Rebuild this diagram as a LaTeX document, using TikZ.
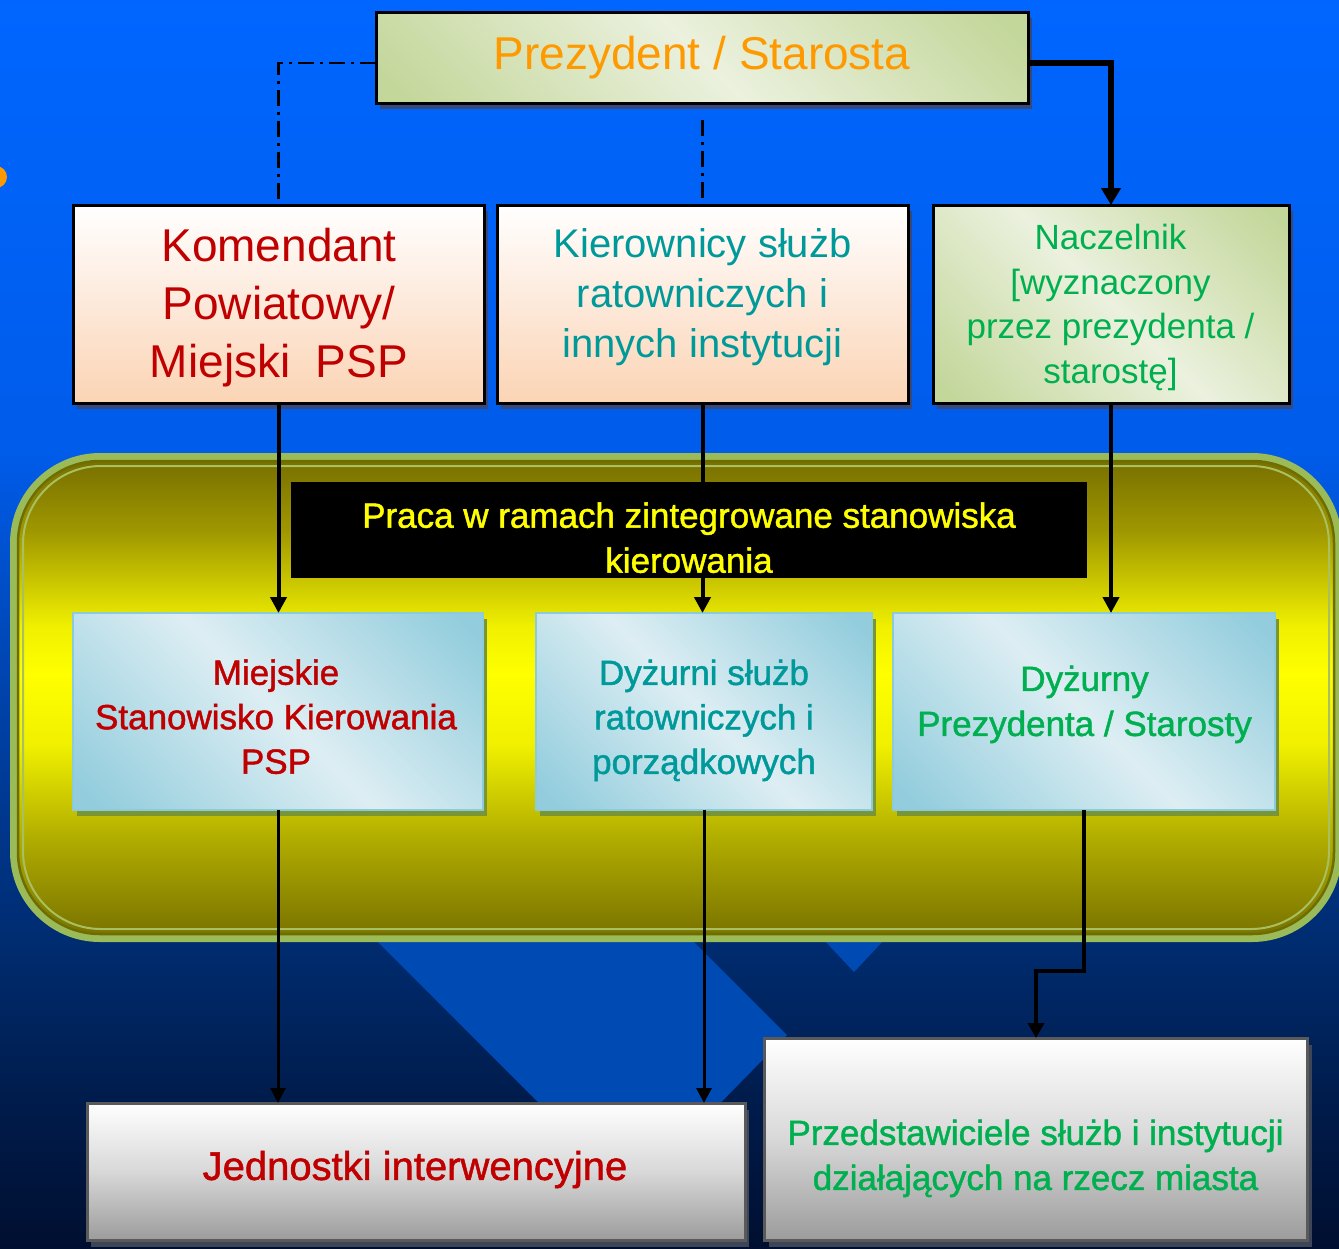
\documentclass[tikz,border=0pt]{standalone}
\usepackage{fontspec}
\setmainfont{Liberation Sans}
\newfontfamily\medfont{Liberation Sans}[FakeBold=1.3]
\usetikzlibrary{arrows.meta,shadows,calc}

\definecolor{bgA}{HTML}{0066FF}
\definecolor{bgB}{HTML}{005CEA}
\definecolor{bgC}{HTML}{0042AA}
\definecolor{bgD}{HTML}{002C70}
\definecolor{bgE}{HTML}{001C4C}
\definecolor{bgF}{HTML}{000F30}
\definecolor{bandblue}{HTML}{004AB4}
\definecolor{yO}{HTML}{7A7400}
\definecolor{yB}{HTML}{B0AC00}
\definecolor{yY1}{HTML}{F0F000}
\definecolor{yY}{HTML}{FFFF00}
\definecolor{yA}{HTML}{A09800}
\definecolor{yO2}{HTML}{787000}
\definecolor{contborder}{HTML}{9BBB59}
\definecolor{contdark}{HTML}{6E6E00}
\definecolor{contline}{HTML}{A8C060}
\definecolor{gD}{HTML}{C4D79B}
\definecolor{gL}{HTML}{EBF1DE}
\definecolor{cD}{HTML}{93CDDD}
\definecolor{cL}{HTML}{DDEEF3}
\definecolor{peach}{HTML}{FBD4B4}
\definecolor{peachmid}{HTML}{FDE9DA}
\definecolor{grayD}{HTML}{D8D8D8}
\definecolor{grayB}{HTML}{9C9C9C}
\definecolor{grayborder}{HTML}{5A5A5A}
\definecolor{cyanborder}{HTML}{8CCBDC}
\definecolor{shA}{HTML}{36497E}
\definecolor{shB}{HTML}{7A9535}
\definecolor{shC}{HTML}{3C4658}
\definecolor{orangeT}{HTML}{FF9900}
\definecolor{redT}{HTML}{C00000}
\definecolor{tealT}{HTML}{00999A}
\definecolor{greenT}{HTML}{00B050}
\definecolor{yellowT}{HTML}{FFFF00}

\pgfdeclareverticalshading{bgshade}{100bp}{color(0bp)=(bgF); color(25bp)=(bgF); color(31bp)=(bgE); color(37.3bp)=(bgD); color(47bp)=(bgC); color(57bp)=(bgB); color(75bp)=(bgA); color(100bp)=(bgA)}
\pgfdeclareverticalshading{yshade}{100bp}{color(0bp)=(yO); color(25bp)=(yO); color(35bp)=(yB); color(45bp)=(yY1); color(52.5bp)=(yY); color(57.5bp)=(yY1); color(67.5bp)=(yA); color(75bp)=(yO2); color(100bp)=(yO2)}
\pgfdeclarehorizontalshading{gdiag}{100bp}{color(0bp)=(gD); color(18bp)=(gD); color(50bp)=(gL); color(82bp)=(gD); color(100bp)=(gD)}
\pgfdeclarehorizontalshading{cdiag}{100bp}{color(0bp)=(cD); color(18bp)=(cD); color(50bp)=(cL); color(82bp)=(cD); color(100bp)=(cD)}

\tikzset{
  every node/.style={inner sep=0pt, outer sep=0pt},
  lbl/.style={align=center},
  fA/.style={font=\fontsize{46pt}{58pt}\selectfont},
  fB/.style={font=\fontsize{40pt}{50pt}\selectfont},
  fC/.style={font=\fontsize{35pt}{44.5pt}\selectfont},
  fD/.style={font=\fontsize{35pt}{45pt}\selectfont},
  mC/.style={font=\medfont\fontsize{35pt}{44.5pt}\selectfont},
  mD/.style={font=\medfont\fontsize{35pt}{45pt}\selectfont},
  mB/.style={font=\medfont\fontsize{40pt}{50pt}\selectfont},
  shtop/.style={drop shadow={shadow xshift=4pt, shadow yshift=-6pt, fill=shA, opacity=1, draw=none}},
  shmid/.style={drop shadow={shadow xshift=4pt, shadow yshift=-6pt, fill=shB, opacity=1, draw=none}},
  shbot/.style={drop shadow={shadow xshift=4pt, shadow yshift=-7pt, fill=shC, opacity=1, draw=none}},
  greenbox/.style={rectangle, draw=black, line width=3pt, shading=gdiag, shading angle=45},
  peachbox/.style={rectangle, draw=black, line width=3pt, top color=white, bottom color=peach, middle color=peachmid},
  cyanbox/.style={rectangle, draw=cyanborder, line width=2pt, shading=cdiag, shading angle=45},
  graybox/.style={rectangle, draw=grayborder, line width=3pt, top color=white, bottom color=grayB, middle color=grayD},
  blackbox/.style={rectangle, fill=black, draw=none},
  dashdotline/.style={draw=black, line width=2.5pt, dash pattern=on 16pt off 6pt on 3pt off 6pt},
  heavyarrow/.style={draw=black, line width=5.5pt, -{Triangle[length=17pt,width=19pt]}},
  midarrow/.style={draw=black, line width=4pt, -{Triangle[length=16pt,width=16pt]}},
  lowarrow/.style={draw=black, line width=3pt, -{Triangle[length=15pt,width=15pt]}},
  kneearrow/.style={draw=black, line width=4pt, -{Triangle[length=15pt,width=16pt]}},
}

\begin{document}
\begin{tikzpicture}[x=1pt,y=-1pt]
\useasboundingbox (0,0) rectangle (1339,1248);
\clip (0,0) rectangle (1339,1248);

% background
\shade[shading=bgshade] (0,0) rectangle (1339,1248);
\fill[bandblue] (376,940) -- (692,940) -- (787,1035) -- (690,1134) -- (570,1134) -- cycle;
\fill[bandblue] (824,940) -- (884,940) -- (854,972) -- cycle;

% container
\fill[contborder, rounded corners=90pt] (10,453) rectangle (1342,942);
\shade[shading=yshade, rounded corners=82pt] (18,461) rectangle (1334,934);
\draw[contdark, line width=2.5pt, rounded corners=82pt] (18,461) rectangle (1334,934);
\draw[contline, line width=2pt, rounded corners=78pt] (23,466) rectangle (1329,929);

% orange bullet
\fill[orangeT] (-4,177) circle (11pt);

% top row
\node[greenbox, shtop, minimum width=652pt, minimum height=91pt] (top) at (702,57.5) {};
\node[lbl, fA, text=orangeT] (topt) at (702,58) {Prezydent / Starosta};

\node[peachbox, shtop, minimum width=411pt, minimum height=198pt] (kom) at (278.5,304) {};
\node[lbl, fA, text=redT] (komt) at (279,308) {Komendant\\Powiatowy/\\Miejski\ \ PSP};

\node[peachbox, shtop, minimum width=411pt, minimum height=198pt] (kier) at (702.5,304) {};
\node[lbl, fB, text=tealT] (kiert) at (702.5,297.6) {Kierownicy służb\\ratowniczych i\\innych instytucji};

\node[greenbox, shtop, minimum width=356pt, minimum height=198pt] (nacz) at (1111,304) {};
\node[lbl, fC, text=greenT] (naczt) at (1110.5,307.4) {Naczelnik\\{[}wyznaczony\\przez prezydenta /\\starostę]};

% middle row
\node[cyanbox, shmid, minimum width=410pt, minimum height=197pt] (miej) at (278,711.5) {};
\node[lbl, mC, text=redT] (miejt) at (276,716.7) {Miejskie\\Stanowisko Kierowania\\PSP};

\node[cyanbox, shmid, minimum width=336pt, minimum height=197pt] (dyzi) at (704,711.5) {};
\node[lbl, mC, text=tealT] (dyzit) at (704,720.4) {Dyżurni służb\\ratowniczych i\\porządkowych};

\node[cyanbox, shmid, minimum width=382pt, minimum height=197pt] (dyzy) at (1084,711.5) {};
\node[lbl, mD, text=greenT] (dyzyt) at (1084.5,704.4) {Dyżurny\\Prezydenta / Starosty};

% bottom row
\node[graybox, shbot, minimum width=658pt, minimum height=137pt] (jedn) at (416,1171.5) {};
\node[lbl, mB, text=redT] (jednt) at (415,1169.6) {Jednostki interwencyjne};

\node[graybox, shbot, minimum width=543pt, minimum height=202pt] (prze) at (1036,1139) {};
\node[lbl, mD, text=greenT] (przet) at (1035.5,1158.4) {Przedstawiciele służb i instytucji\\działających na rzecz miasta};

% connectors
\draw[dashdotline] ($(top.west)+(0,5.5)$) -| (kom.north);
\coordinate (dstart) at ($(top.south -| kier.north)+(0,17)$);
\draw[dashdotline] (dstart) -- (kier.north);
\draw[heavyarrow] ($(top.east)+(0,5.5)$) -| (nacz.north);

\draw[midarrow] (kom.south) -- (kom.south |- miej.north);
\draw[midarrow] (kier.south) -- (kier.south |- dyzi.north);
\draw[midarrow] (nacz.south) -- (nacz.south |- dyzy.north);

\draw[lowarrow] (miej.south) -- (miej.south |- jedn.north);
\draw[lowarrow] (dyzi.south) -- (dyzi.south |- jedn.north);
\coordinate (knee) at ($(dyzy.south)+(0,161)$);
\draw[kneearrow] (dyzy.south) -- (knee) -| (prze.north);

% black banner (over the middle connector)
\node[blackbox, minimum width=796pt, minimum height=96pt] (ban) at (689,530) {};
\node[lbl, mD, text=yellowT] (bant) at (689,537.7) {Praca w ramach zintegrowane stanowiska\\kierowania};
\end{tikzpicture}
\end{document}
